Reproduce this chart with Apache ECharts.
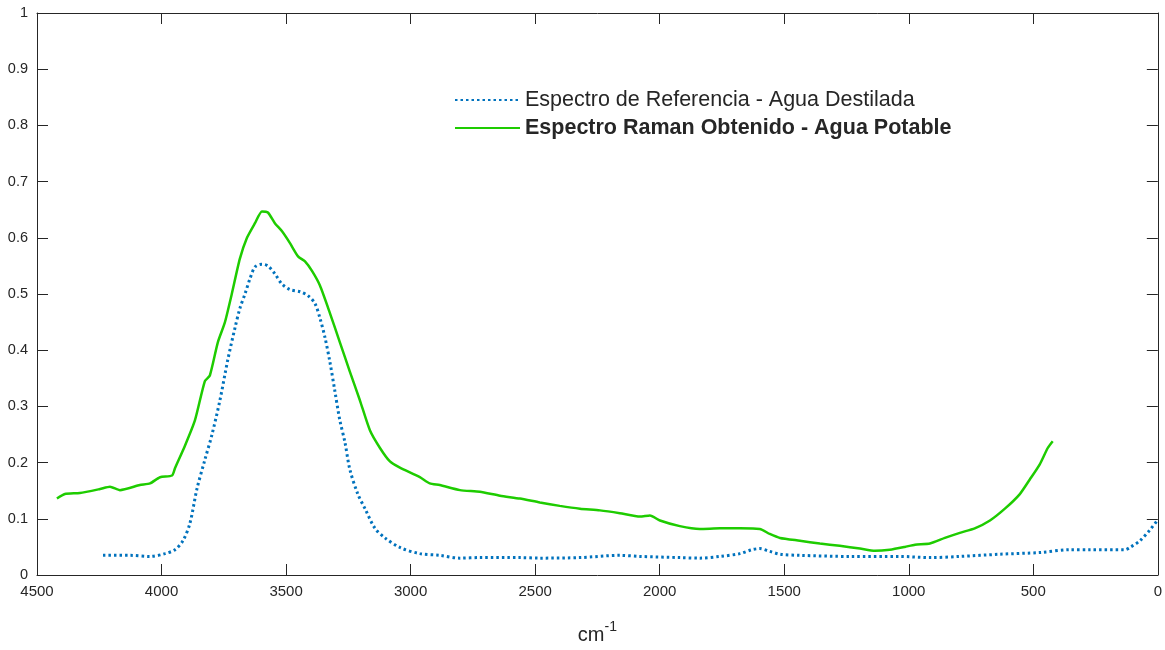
<!DOCTYPE html>
<html>
<head>
<meta charset="utf-8">
<script src="https://cdn.jsdelivr.net/npm/echarts@6/dist/echarts.min.js"></script>
<style>
  html, body { margin: 0; padding: 0; background: #fff; }
  #main { width: 1165px; height: 650px; }
</style>
</head>
<body>
<div id="main"></div>
<script>
// series names
const refName = 'Espectro de Referencia - Agua Destilada';
const ramanName = 'Espectro Raman Obtenido - Agua Potable';

// reference spectrum (distilled water), cm-1 / intensity
const refWave = [4235, 4127, 4046, 3986, 3946, 3914, 3886, 3858, 3826, 3798, 3766, 3734, 3705, 3685, 3665, 3645, 3625, 3597, 3573, 3545, 3517, 3485, 3444, 3412, 3384, 3364, 3344, 3324, 3304, 3284, 3264, 3244, 3212, 3183, 3143, 3103, 3043, 2963, 2883, 2802, 2722, 2561, 2481, 2320, 2160, 2079, 1919, 1839, 1758, 1678, 1630, 1598, 1558, 1517, 1437, 1236, 1036, 915, 795, 634, 474, 353, 273, 132, 112, 72, 32, 4];
const refInt = [0.035, 0.035, 0.033, 0.038, 0.045, 0.061, 0.092, 0.153, 0.205, 0.249, 0.31, 0.383, 0.44, 0.475, 0.5, 0.527, 0.548, 0.553, 0.55, 0.536, 0.518, 0.508, 0.504, 0.497, 0.483, 0.457, 0.423, 0.379, 0.327, 0.275, 0.237, 0.188, 0.144, 0.118, 0.083, 0.066, 0.049, 0.038, 0.035, 0.03, 0.031, 0.031, 0.03, 0.031, 0.035, 0.033, 0.031, 0.03, 0.033, 0.038, 0.045, 0.047, 0.042, 0.037, 0.035, 0.033, 0.033, 0.031, 0.033, 0.037, 0.04, 0.045, 0.045, 0.045, 0.049, 0.061, 0.08, 0.096];

// measured Raman spectrum (tap water)
const ramanWave = [4420, 4388, 4328, 4247, 4207, 4167, 4087, 4046, 4006, 3958, 3946, 3906, 3866, 3826, 3806, 3774, 3746, 3718, 3686, 3657, 3625, 3597, 3573, 3545, 3517, 3485, 3452, 3424, 3396, 3364, 3324, 3284, 3244, 3203, 3163, 3123, 3083, 3043, 2963, 2923, 2883, 2802, 2722, 2641, 2561, 2481, 2401, 2320, 2240, 2160, 2079, 2039, 1999, 1919, 1839, 1758, 1678, 1598, 1558, 1517, 1437, 1357, 1277, 1196, 1136, 1076, 1016, 975, 915, 855, 795, 735, 674, 614, 554, 514, 474, 442, 422];
const ramanInt = [0.136, 0.144, 0.146, 0.153, 0.157, 0.151, 0.16, 0.163, 0.174, 0.177, 0.19, 0.23, 0.275, 0.345, 0.355, 0.414, 0.449, 0.5, 0.562, 0.6, 0.626, 0.647, 0.645, 0.626, 0.612, 0.591, 0.567, 0.558, 0.541, 0.515, 0.466, 0.414, 0.362, 0.31, 0.257, 0.226, 0.202, 0.191, 0.174, 0.163, 0.16, 0.151, 0.148, 0.141, 0.136, 0.129, 0.123, 0.118, 0.115, 0.11, 0.104, 0.106, 0.097, 0.087, 0.082, 0.083, 0.083, 0.082, 0.073, 0.066, 0.061, 0.056, 0.052, 0.047, 0.043, 0.045, 0.05, 0.054, 0.056, 0.066, 0.075, 0.083, 0.097, 0.118, 0.144, 0.17, 0.197, 0.226, 0.238];

const axisColor = '#262626';
const font = 'Helvetica, "Liberation Sans", Arial, sans-serif';

const chart = echarts.init(document.getElementById('main'));

const zip = (xs, ys) => xs.map((x, i) => [x, ys[i]]);

const baseX = {
    type: 'value',
    inverse: true,
    min: 0,
    max: 4500,
    interval: 500,
    splitLine: { show: false },
    axisLine: { show: true, onZero: false, lineStyle: { color: axisColor, width: 1 } },
    axisTick: { show: true, inside: true, length: 11, lineStyle: { color: axisColor } }
};
const baseY = {
    type: 'value',
    min: 0,
    max: 1,
    interval: 0.1,
    splitLine: { show: false },
    axisLine: { show: true, onZero: false, lineStyle: { color: axisColor, width: 1 } },
    axisTick: { show: true, inside: true, length: 11, lineStyle: { color: axisColor } }
};

const option = {
    animation: false,
    backgroundColor: '#fff',
    grid: { left: 37, right: 7, top: 13, bottom: 62 },
    legend: {
        orient: 'vertical',
        left: 449,
        top: 84,
        itemWidth: 65,
        itemHeight: 20,
        itemGap: 6,
        itemStyle: { opacity: 0 },
        data: [refName, ramanName],
        formatter: name => name === ramanName ? '{b|' + name + '}' : '{a|' + name + '}',
        textStyle: {
            rich: {
                a: { fontFamily: font, fontSize: 21.5, color: '#262626' },
                b: { fontFamily: font, fontSize: 21.5, fontWeight: 'bold', color: '#262626' }
            }
        }
    },
    xAxis: [
        Object.assign({}, baseX, {
            position: 'bottom',
            name: '{m|cm}{s|-1}',
            nameLocation: 'middle',
            nameGap: 42,
            nameTextStyle: {
                rich: {
                    m: { fontFamily: font, fontSize: 20, color: '#262626', padding: [8, 0, 0, 0] },
                    s: { fontFamily: font, fontSize: 14, color: '#262626', padding: [0, 0, 8, 0] }
                }
            },
            axisLabel: { fontFamily: font, fontSize: 15, color: '#262626', margin: 9, formatter: v => String(v) }
        }),
        Object.assign({}, baseX, { position: 'top', axisLabel: { show: false } })
    ],
    yAxis: [
        Object.assign({}, baseY, {
            position: 'left',
            axisLabel: { fontFamily: font, fontSize: 14.5, color: '#262626', margin: 9 }
        }),
        Object.assign({}, baseY, { position: 'right', axisLabel: { show: false } })
    ],
    series: [
        {
            name: refName,
            type: 'line',
            data: zip(refWave, refInt),
            symbol: 'none',
            smooth: 0.3,
            color: '#0072bd',
            lineStyle: { color: '#0072bd', width: 3, type: [2.5, 3], cap: 'butt' }
        },
        {
            name: ramanName,
            type: 'line',
            data: zip(ramanWave, ramanInt),
            symbol: 'none',
            smooth: 0.2,
            color: '#1ecc00',
            lineStyle: { color: '#1ecc00', width: 2.5 }
        }
    ]
};

chart.setOption(option);
</script>
</body>
</html>
